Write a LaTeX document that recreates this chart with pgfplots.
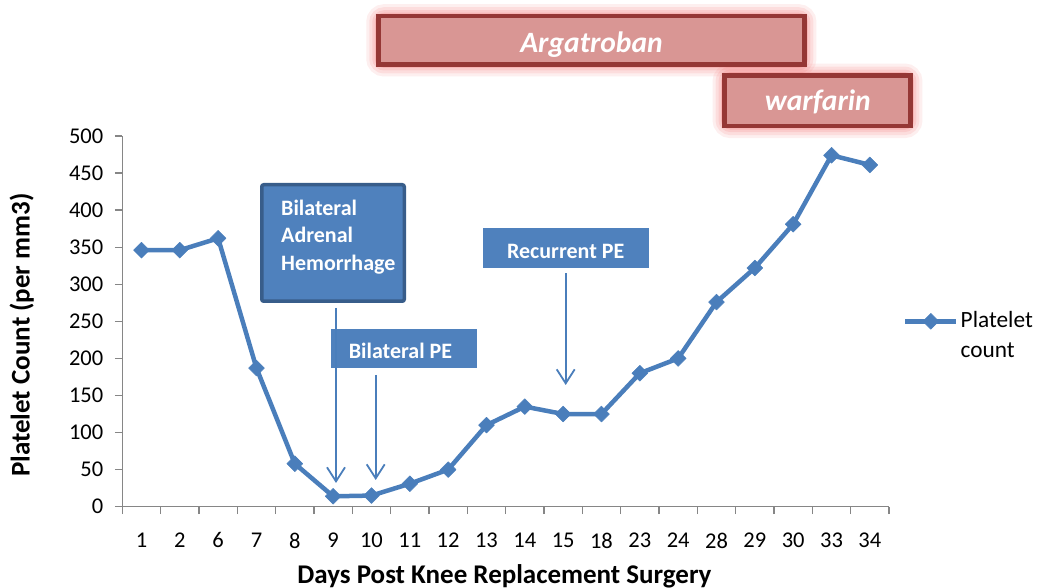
\documentclass[border=0pt]{standalone}
\usepackage{fontspec}
\setmainfont{Carlito}
\usepackage{pgfplots}
\pgfplotsset{compat=1.18}
\usetikzlibrary{arrows.meta}
\definecolor{lineblue}{HTML}{4A7EBB}
\definecolor{boxblue}{HTML}{4F81BD}
\definecolor{boxborder}{HTML}{385D8A}
\definecolor{redfill}{HTML}{D99694}
\definecolor{redborder}{HTML}{953735}
\definecolor{glowred}{HTML}{F06060}
\definecolor{axgray}{HTML}{868686}
\begin{document}
\begin{tikzpicture}
\path[use as bounding box] (0pt,0pt) rectangle (1037pt,588pt);
\begin{axis}[
  at={(122.3pt,81.3pt)}, anchor=south west,
  scale only axis, width=766.7pt, height=370.7pt,
  xmin=-0.5, xmax=19.5, ymin=0, ymax=500,
  axis lines=left,
  axis line style={-, draw=axgray, line width=1.3pt},
  xtick={-0.5,0.5,...,19.5},
  xticklabels={1,2,6,7,8,9,10,11,12,13,14,15,18,23,24,28,29,30,33,34,{}},
  xticklabel style={xshift=19.17pt, yshift=-15pt},
  yticklabel style={xshift=-8pt},
  ytick={0,50,...,500},
  major tick length=7.5pt, tick align=outside,
  tick style={draw=axgray, line width=1.3pt},
  ticklabel style={font=\fontsize{22.5}{26}\selectfont, text=black},
  /pgf/number format/assume math mode=true,
  xlabel={Days Post Knee Replacement Surgery},
  ylabel={Platelet Count (per mm3)},
  xlabel style={at={(axis description cs:0.4985,-0.2085)}, anchor=base, font=\bfseries\fontsize{27}{32}\selectfont},
  ylabel style={at={(axis description cs:-0.121,0.463)}, anchor=base, font=\bfseries\fontsize{27}{32}\selectfont},
  legend style={at={(axis description cs:1.0179,0.50)}, anchor=west, draw=none, fill=none,
    inner sep=0pt, font=\fontsize{23.3}{30}\selectfont},
  legend cell align=left,
  legend image code/.code={\draw[mark repeat=2,mark phase=2,#1] plot coordinates {(0pt,0pt) (25.65pt,0pt) (51.3pt,0pt)};},
  clip=false,
]
\addplot[color=lineblue, line width=4.5pt, line join=round,
  mark=square*, mark size=5.6pt,
  mark options={solid, rotate=45, fill=lineblue, draw=lineblue, line width=0.5pt}]
  coordinates {
  (0,346) (1,346) (2,362) (3,187) (4,58) (5,14) (6,15) (7,31) (8,50) (9,110)
  (10,135) (11,125) (12,125) (13,180) (14,200) (15,276) (16,322) (17,381) (18,474) (19,461)
  };
\addlegendentry{\raisebox{0pt}[14pt][0pt]{\begin{tabular}[t]{@{}l@{}}Platelet\\count\end{tabular}}}
\end{axis}
% glow for red boxes
\foreach \w/\o in {24/0.10, 18/0.12, 12/0.15, 7/0.2} {
  \draw[glowred, line width=\w pt, opacity=\o, rounded corners=6pt] (378.25pt,571.75pt) rectangle (804.45pt,523.55pt);
  \draw[glowred, line width=\w pt, opacity=\o, rounded corners=6pt] (724.55pt,512.45pt) rectangle (910.45pt,461.95pt);
}
\draw[redborder, fill=redfill, line width=4.5pt] (378.25pt,571.75pt) rectangle (804.45pt,523.55pt);
\draw[redborder, fill=redfill, line width=4.5pt] (724.55pt,512.45pt) rectangle (910.45pt,461.95pt);
\node[anchor=base, text=white, font=\bfseries\itshape\fontsize{29.5}{34}\selectfont, inner sep=0pt] at (591.5pt,535pt) {Argatroban};
\node[anchor=base, text=white, font=\bfseries\itshape\fontsize{29.5}{34}\selectfont, inner sep=0pt] at (817.8pt,477pt) {warfarin};
% blue boxes
\draw[boxborder, fill=boxblue, line width=3.5pt, rounded corners=2pt] (261.75pt,403.25pt) rectangle (404.25pt,286.75pt);
\fill[boxblue] (482.7pt,359.7pt) rectangle (649pt,320.3pt);
\fill[boxblue] (331pt,259pt) rectangle (477pt,220pt);
\begin{scope}[every node/.style={text=white, font=\bfseries\fontsize{22}{26}\selectfont, inner sep=0pt}]
\node[anchor=base west] at (281pt,372pt) {Bilateral};
\node[anchor=base west] at (281pt,345pt) {Adrenal};
\node[anchor=base west] at (281pt,317pt) {Hemorrhage};
\node[anchor=base] at (565.7pt,329.7pt) {Recurrent PE};
\node[anchor=base] at (400.5pt,229pt) {Bilateral PE};
\end{scope}
% arrows
\begin{scope}[lineblue, line width=1.8pt, -{Straight Barb[length=14pt,width=18pt,line width=1.8pt]}]
\draw (336pt,280pt) -- (336pt,105pt);
\draw (375.7pt,213pt) -- (375.7pt,108pt);
\draw (565.7pt,314.7pt) -- (565.7pt,203pt);
\end{scope}
\end{tikzpicture}
\end{document}
